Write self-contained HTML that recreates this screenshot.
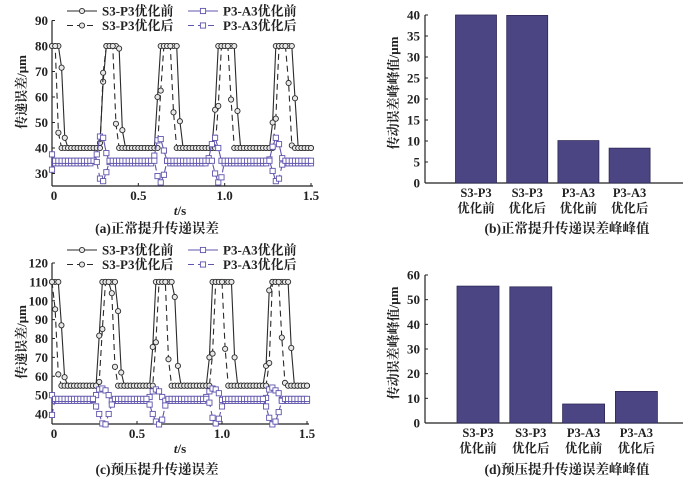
<!DOCTYPE html>
<html><head><meta charset="utf-8">
<style>
html,body{margin:0;padding:0;background:#fff;}
svg{display:block;}
text{font-family:"Liberation Serif","Noto Serif CJK SC","Noto Sans CJK SC",serif;font-weight:bold;fill:#222;}
</style></head>
<body>
<svg id="fig" width="700" height="484" viewBox="0 0 700 484" xmlns="http://www.w3.org/2000/svg">
<g id="pa"></g>
<g id="pb"></g>
<g id="pc"></g>
<g id="pd"></g>
</svg>
<script>
// ---- data: sample time step 1/54 s, 82 samples (0..1.5 s)
const sampleCount = 82;
const sampleStep = 1/54;
// Panel (a)
const aS3P3Before = [80,80,80,71.5,44,40,40,40,40,40,40,40,40,40,40,42,66,80,80,80,80,79,47,40,40,40,40,40,40,40,40,40,40,60,80,80,80,80,80,80,50.5,40,40,40,40,40,40,40,40,40,40,55,80,80,80,80,80,80,54.5,40,40,40,40,40,40,40,40,40,40,50,80,80,80,80,80,80,59.5,40,40,40,40,40];
const aS3P3After = [80,80,46,40,40,40,40,40,40,40,40,40,40,40,40,40,69.5,80,80,80,49.5,40,40,40,40,40,40,40,40,40,40,40,40,40,62.5,80,80,80,54,40,40,40,40,40,40,40,40,40,40,40,40,40,56.5,80,80,80,59,40,40,40,40,40,40,40,40,40,40,40,40,40,51.5,80,80,80,65.5,41,40,40,40,40,40,40];
const aP3A3Before = [31.5,34,34,34,34,34,34,34,34,34,34,34,34,35,37.5,44.5,44,38,34.5,34,34,34,34,34,34,34,34,34,34,34,34,34,37,43,43.5,39,35,34,34,34,34,34,34,34,34,34,34,34,34,36,41.5,44,40,35,34,34,34,34,34,34,34,34,34,34,34,34,34,34,35.5,40.5,44,41.5,36,34,34,34,34,34,34,34,34,34];
const aP3A3After = [37.5,35,35,35,35,35,35,35,35,35,35,35,35,35,34.5,28,27,30.5,35,35,35,35,35,35,35,35,35,35,35,35,35,35,35,29,26.5,29.5,35,35,35,35,35,35,35,35,35,35,35,35,35,35,35,30,26.5,28.5,35,35,35,35,35,35,35,35,35,35,35,35,35,35,35,31,27,28,33.5,35,35,35,35,35,35,35,35,35];
// Panel (c)
const cS3P3Before = [110,110,110,87,59.5,55,55,55,55,55,55,55,55,55,55,81.5,110,110,110,110,110,94.5,62,55,55,55,55,55,55,55,55,55,75.5,110,110,110,110,110,110,102,65.5,55,55,55,55,55,55,55,55,55,70,110,110,110,110,110,110,110,70,55,55,55,55,55,55,55,55,55,65.5,105.5,110,110,110,110,110,110,75,55,55,55,55,55];
const cS3P3After = [110,95.5,61,55,55,55,55,55,55,55,55,55,55,55,55,57,85,110,110,104,65,55,55,55,55,55,55,55,55,55,55,55,55,78,110,110,110,69,55,55,55,55,55,55,55,55,55,55,55,55,55,72,110,110,110,74.5,55,55,55,55,55,55,55,55,55,55,55,55,55,67,110,110,110,80.5,56.5,55,55,55,55,55,55,55];
const cP3A3Before = [50,47,47,47,47,47,47,47,47,47,47,47,47,47.5,50,53,53.5,52.5,50,47,47,47,47,47,47,47,47,47,47,47,47,49,52,53,52,49,47,47,47,47,47,47,47,47,47,47,47,47,47,49,52,53.5,53,51,47.5,47,47,47,47,47,47,47,47,47,47,47,47,47,48.5,53,54,52.5,51,47.5,47,47,47,47,47,47,47,47];
const cP3A3After = [39.5,48,48,48,48,48,48,48,48,48,48,48,48,48,44,40,35,34.5,40,45,48,48,48,48,48,48,48,48,48,48,48,45,40,36,34.5,37,44.5,48,48,48,48,48,48,48,48,48,48,48,48,48,46,38,35,37.5,44,48,48,48,48,48,48,48,48,48,48,48,48,48,44,38,34.5,36,41,47,48,48,48,48,48,48,48,48];
const xTicks = [0, 0.5, 1.0, 1.5];
const xTickLabels = ["0","0.5","1.0","1.5"];
const aYTicks = [30,40,50,60,70,80,90];
const cYTicks = [40,50,60,70,80,90,100,110,120];
// Bar panels
const barCategories = [["S3-P3","优化前"],["S3-P3","优化后"],["P3-A3","优化前"],["P3-A3","优化后"]];
const bValues = [40, 39.9, 10.1, 8.3];
const dValues = [55.5, 55.2, 7.7, 12.8];
const bYTicks = [0,5,10,15,20,25,30,35,40];
const dYTicks = [0,10,20,30,40,50,60];

const NS = "http://www.w3.org/2000/svg";
function mk(parent, tag, attrs){
  const el = document.createElementNS(NS, tag);
  for (const k in attrs) el.setAttribute(k, attrs[k]);
  parent.appendChild(el);
  return el;
}
const BLACK = "#2a2a2a", PURPLE = "#5f55ad";

function marker(g, type, x, y, color){
  let el;
  if (type === "circle") {
    el = mk(g, "circle", {cx:x, cy:y, r:2.6, fill:"#e8e8e8", stroke:color, "stroke-width":0.9});
  } else {
    el = mk(g, "rect", {x:x-2.6, y:y-2.6, width:5.2, height:5.2, fill:"#fff", stroke:color, "stroke-width":0.9});
  }
  
  
}

function linePanel(g, opt){
  const X = t => opt.x0 + (t/1.5)*(opt.x1-opt.x0);
  const Y = v => opt.yRef - (v-opt.vRef)*opt.k;
  // axes
  const ya = mk(g, "line", {x1:opt.x0, y1:Y(opt.yTicks[opt.yTicks.length-1]), x2:opt.x0, y2:opt.yBase, stroke:"#222", "stroke-width":1.2});
  
  
  const xa = mk(g, "line", {x1:opt.x0, y1:opt.yBase, x2:opt.x1+2, y2:opt.yBase, stroke:"#222", "stroke-width":1.2});
  
  
  opt.yTicks.forEach(v => {
    const tk = mk(g, "line", {x1:opt.x0, y1:Y(v), x2:opt.x0+3, y2:Y(v), stroke:"#222", "stroke-width":1});
    
    
    const tl = mk(g, "text", {x:opt.x0-4, y:Y(v)+4.5, "text-anchor":"end", "font-size":13});
    tl.textContent = String(v);
    
    
  });
  xTicks.forEach((t,i) => {
    const tk = mk(g, "line", {x1:X(t), y1:opt.yBase, x2:X(t), y2:opt.yBase-3, stroke:"#222", "stroke-width":1});
    
    
    const tl = mk(g, "text", {x:X(t)+(i===0?2:0), y:opt.yBase+14, "text-anchor":"middle", "font-size":13});
    tl.textContent = xTickLabels[i];
    
    
  });
  const xt = mk(g, "text", {x:180, y:opt.yBase+29, "text-anchor":"middle", "font-size":13});
  xt.innerHTML = '<tspan font-style="italic">t</tspan>/s';
  
  
  const yt = mk(g, "text", {x:0, y:0, "text-anchor":"middle", "font-size":13, transform:`translate(26,${opt.yTitle}) rotate(-90)`});
  yt.textContent = "传递误差/μm";
  
  
  const cap = mk(g, "text", {x:157, y:opt.capY, "text-anchor":"middle", "font-size":13.5, "font-weight":"normal"});
  cap.textContent = opt.caption;
  
  
  // series
  opt.series.forEach(s => {
    const sg = mk(g, "g", {});
    
    
    let d = "";
    for (let i=0;i<sampleCount;i++){
      d += (i?"L":"M") + X(i*sampleStep).toFixed(2) + "," + Y(s.values[i]).toFixed(2);
    }
    const p = mk(sg, "path", {d:d, fill:"none", stroke:s.color, "stroke-width":1.1, "stroke-dasharray":s.dash?"6,4":"none"});
    
    
    for (let i=0;i<sampleCount;i++) marker(sg, s.marker, X(i*sampleStep), Y(s.values[i]), s.color);
  });
  // legend
  const lg = mk(g, "g", {});
  
  
  opt.series.forEach((s,i) => {
    const col = i%2===0 ? 0 : 1; // order: [s3 before, p3 before, s3 after, p3 after]
  });
  const entries = [
    {s:opt.series[0], lx:67, ly:opt.legY, label:"S3-P3优化前"},
    {s:opt.series[2], lx:188, ly:opt.legY, label:"P3-A3优化前"},
    {s:opt.series[1], lx:67, ly:opt.legY+14.5, label:"S3-P3优化后"},
    {s:opt.series[3], lx:188, ly:opt.legY+14.5, label:"P3-A3优化后"}
  ];
  entries.forEach(e => {
    const eg = mk(lg, "g", {});
    
    
    mk(eg, "line", {x1:e.lx, y1:e.ly, x2:e.lx+30, y2:e.ly, stroke:e.s.color, "stroke-width":1.1, "stroke-dasharray":e.s.dash?"6,4":"none"});
    marker(eg, e.s.marker, e.lx+15, e.ly, e.s.color);
    const t = mk(eg, "text", {x:e.lx+35, y:e.ly+4.5, "font-size":13});
    t.textContent = e.label;
    
    
  });
}

function barPanel(g, opt){
  const Y = v => opt.y0 - v*opt.k;
  const ya = mk(g, "line", {x1:425, y1:Y(opt.yTicks[opt.yTicks.length-1]), x2:425, y2:opt.y0, stroke:"#222", "stroke-width":1.2});
  
  
  const xa = mk(g, "line", {x1:425, y1:opt.y0, x2:683, y2:opt.y0, stroke:"#222", "stroke-width":1.2});
  
  
  opt.yTicks.forEach(v => {
    const tk = mk(g, "line", {x1:425, y1:Y(v), x2:428, y2:Y(v), stroke:"#222", "stroke-width":1});
    
    
    const tl = mk(g, "text", {x:420, y:Y(v)+4.5, "text-anchor":"end", "font-size":13});
    tl.textContent = String(v);
    
    
  });
  opt.values.forEach((v,i) => {
    const cx = opt.c0 + i*opt.step;
    const r = mk(g, "rect", {x:cx-opt.w/2, y:Y(v), width:opt.w, height:opt.y0-Y(v), fill:"#4b4584", stroke:"#2d2857", "stroke-width":0.8});
    
    
    barCategories[i].forEach((line,j) => {
      const t = mk(g, "text", {x:cx, y:opt.y0+14+j*15.5, "text-anchor":"middle", "font-size":12.5, "font-weight": j===0?"bold":"normal"});
      t.textContent = line;
      
      
    });
  });
  const yt = mk(g, "text", {x:0, y:0, "text-anchor":"middle", "font-size":13, transform:`translate(398,${opt.yTitle}) rotate(-90)`});
  yt.textContent = "传动误差峰峰值/μm";
  
  
  const cap = mk(g, "text", {x:567, y:opt.capY, "text-anchor":"middle", "font-size":13.5, "font-weight":"normal"});
  cap.textContent = opt.caption;
  
  
}

linePanel(document.getElementById("pa"), {
  x0:52, x1:311, yRef:173.5, vRef:30, k:2.55, yBase:186, yTicks:aYTicks, yTitle:92,
  capY:233, legY:11, caption:"(a)正常提升传递误差",
  series:[
    {name:"series-s3-p3-before", values:aS3P3Before, color:BLACK, dash:false, marker:"circle"},
    {name:"series-s3-p3-after", values:aS3P3After, color:BLACK, dash:true, marker:"circle"},
    {name:"series-p3-a3-before", values:aP3A3Before, color:PURPLE, dash:false, marker:"square"},
    {name:"series-p3-a3-after", values:aP3A3After, color:PURPLE, dash:true, marker:"square"}
  ]
});
linePanel(document.getElementById("pc"), {
  x0:52, x1:307, yRef:263, vRef:120, k:1.8875, yBase:424, yTicks:cYTicks, yTitle:342,
  capY:474, legY:250, caption:"(c)预压提升传递误差",
  series:[
    {name:"series-s3-p3-before", values:cS3P3Before, color:BLACK, dash:false, marker:"circle"},
    {name:"series-s3-p3-after", values:cS3P3After, color:BLACK, dash:true, marker:"circle"},
    {name:"series-p3-a3-before", values:cP3A3Before, color:PURPLE, dash:false, marker:"square"},
    {name:"series-p3-a3-after", values:cP3A3After, color:PURPLE, dash:true, marker:"square"}
  ]
});
barPanel(document.getElementById("pb"), {
  y0:183, k:4.2, yTicks:bYTicks, values:bValues, c0:476, step:51.2, w:41,
  yTitle:93, capY:233, caption:"(b)正常提升传递误差峰峰值"
});
barPanel(document.getElementById("pd"), {
  y0:423, k:148/60, yTicks:dYTicks, values:dValues, c0:478, step:52.8, w:42,
  yTitle:343, capY:474, caption:"(d)预压提升传递误差峰峰值"
});
</script>
</body></html>
